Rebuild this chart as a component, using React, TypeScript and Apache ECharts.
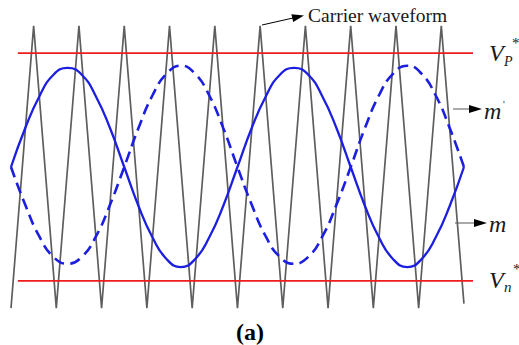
import React, { useEffect, useRef } from "react";
import * as echarts from "echarts";

// x positions (in carrier periods) of the carrier vertices
const carrierX = [0, 0.5, 1, 1.5, 2, 2.5, 3, 3.5, 4, 4.5, 5, 5.5, 6, 6.5, 7, 7.5, 8, 8.5, 9, 9.5, 10];
const carrierY = [-1.24, 1.24, -1.24, 1.24, -1.24, 1.24, -1.24, 1.24, -1.24, 1.24, -1.24, 1.24, -1.24, 1.24, -1.24, 1.24, -1.24, 1.24, -1.24, 1.24, -1.2];

// sample positions for the modulating waves
const waveX = [
  0, 0.3125, 0.625, 0.9375, 1.25, 1.5625, 1.875, 2.1875, 2.5, 2.8125, 3.125, 3.4375, 3.75, 4.0625, 4.375, 4.6875,
  5, 5.3125, 5.625, 5.9375, 6.25, 6.5625, 6.875, 7.1875, 7.5, 7.8125, 8.125, 8.4375, 8.75, 9.0625, 9.375, 9.6875, 10,
];
// m (solid)
const mValues = [
  0, 0.34, 0.62, 0.81, 0.87, 0.81, 0.62, 0.34, 0, -0.34, -0.62, -0.81, -0.88, -0.81, -0.62, -0.34,
  0, 0.34, 0.62, 0.81, 0.87, 0.81, 0.62, 0.34, 0, -0.34, -0.62, -0.81, -0.88, -0.81, -0.62, -0.34, 0,
];
// m' (dashed)
const mPrimeValues = [
  0, -0.33, -0.61, -0.79, -0.85, -0.79, -0.61, -0.33, 0, 0.34, 0.63, 0.82, 0.89, 0.82, 0.63, 0.34,
  0, -0.33, -0.61, -0.79, -0.85, -0.79, -0.61, -0.33, 0, 0.34, 0.63, 0.82, 0.89, 0.82, 0.63, 0.34, 0,
];
// reference levels V_P* and V_n*
const refX = [0.15, 10.2];
const vpLevel = 1;
const vnLevel = -1;

const serif = "Liberation Serif";

function label(x: number, y: number, text: string, size: number, opts: any = {}) {
  return {
    type: "text",
    x,
    y,
    style: {
      text,
      fontFamily: serif,
      fontSize: size,
      fontStyle: opts.italic ? "italic" : "normal",
      fontWeight: opts.bold ? "bold" : "normal",
      fill: opts.fill || "#1a1a1a",
      verticalAlign: "middle",
      textAlign: opts.align || "left",
    },
  };
}

export default function App() {
  const ref = useRef<HTMLDivElement>(null);
  useEffect(() => {
    if (!ref.current) return;
    const chart = echarts.init(ref.current, undefined, { renderer: "svg" });
    const blue = "#1c1ee0";
    const arrowStyle = { fill: "#000" };
    chart.setOption({
      animation: false,
      backgroundColor: "#fff",
      grid: { left: 11, top: 19, width: 462, height: 296, containLabel: false },
      xAxis: { type: "value", min: 0, max: 10.2, show: false },
      yAxis: { type: "value", min: -1.3, max: 1.3, show: false },
      series: [
        {
          type: "line",
          data: carrierX.map((x, i) => [x, carrierY[i]]),
          symbol: "none",
          lineStyle: { color: "#5e5e5e", width: 1.7 },
          z: 2,
        },
        {
          type: "line",
          data: refX.map((x) => [x, vpLevel]),
          symbol: "none",
          lineStyle: { color: "#ee1c1c", width: 1.6 },
          z: 3,
        },
        {
          type: "line",
          data: refX.map((x) => [x, vnLevel]),
          symbol: "none",
          lineStyle: { color: "#ee1c1c", width: 1.6 },
          z: 3,
        },
        {
          type: "line",
          data: waveX.map((x, i) => [x, mValues[i]]),
          symbol: "none",
          smooth: 0.5,
          lineStyle: { color: blue, width: 2.3 },
          z: 4,
        },
        {
          type: "line",
          data: waveX.map((x, i) => [x, mPrimeValues[i]]),
          symbol: "none",
          smooth: 0.5,
          lineStyle: { color: blue, width: 2.6, type: [11, 6] },
          z: 4,
        },
      ],
      graphic: [
        // Carrier waveform label and arrow
        { type: "line", shape: { x1: 262, y1: 25, x2: 293, y2: 18 }, style: { stroke: "#000", lineWidth: 1 } },
        { type: "polygon", shape: { points: [[304, 15.5], [293.2, 22.1], [291.4, 14.3]] }, style: arrowStyle },
        label(308, 15, "Carrier waveform", 19.5),
        // V_P*
        label(489, 53, "V", 24, { italic: true }),
        label(504, 61, "P", 14, { italic: true }),
        label(512, 43, "*", 15),
        // m'
        { type: "line", shape: { x1: 453, y1: 109, x2: 471, y2: 109 }, style: { stroke: "#555", lineWidth: 1 } },
        { type: "polygon", shape: { points: [[482, 109], [469, 105], [469, 113]] }, style: arrowStyle },
        label(484, 111, "m", 24, { italic: true }),
        label(503, 104, "'", 10),
        // m
        { type: "line", shape: { x1: 455, y1: 223, x2: 475, y2: 223 }, style: { stroke: "#555", lineWidth: 1 } },
        { type: "polygon", shape: { points: [[487, 223], [474, 219], [474, 227]] }, style: arrowStyle },
        label(489, 224, "m", 24, { italic: true }),
        // V_n*
        label(489, 280, "V", 24, { italic: true }),
        label(504, 287, "n", 15, { italic: true }),
        label(513, 269, "*", 15),
        // (a)
        label(250, 332, "(a)", 24, { bold: true, fill: "#000", align: "center" }),
      ],
    });
    return () => chart.dispose();
  }, []);
  return <div ref={ref} style={{ position: "fixed", left: 0, top: 0, width: 519, height: 345, background: "#fff" }} />;
}
